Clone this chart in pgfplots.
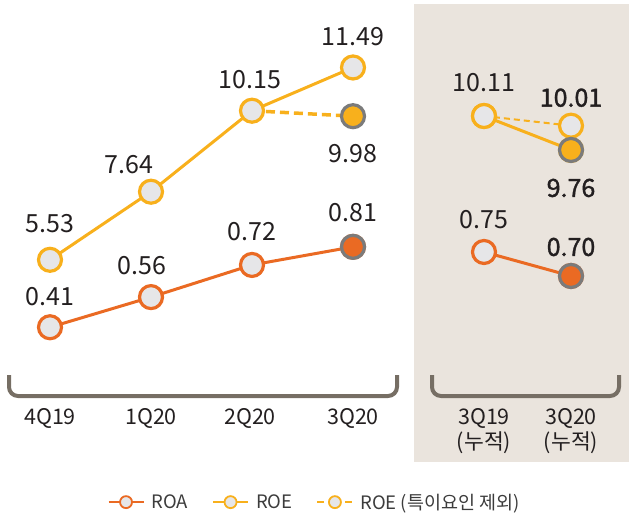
\documentclass[border=0pt]{standalone}
\usepackage{pgfplots}
\pgfplotsset{compat=1.18}
\usepackage{fontspec}
\setmainfont{Noto Sans CJK KR}
\newfontfamily\semibold[FakeBold=1.3]{Noto Sans CJK KR}

\definecolor{roe}{HTML}{F8B01C}
\definecolor{roa}{HTML}{EA6A23}
\definecolor{mk}{HTML}{E6E6E8}
\definecolor{rim}{HTML}{7B7B7B}
\definecolor{panel}{HTML}{EAE4DD}
\definecolor{brk}{HTML}{766E64}
\definecolor{txt}{HTML}{231F20}
\definecolor{leg}{HTML}{3C3C3C}

\pgfplotsset{
  panel/.style={hide axis, scale only axis, clip=false, height=515pt, anchor=south west},
  hollow/.style={mark=*, mark size=11.5pt, mark options={solid, fill=mk, line width=3.2pt}},
  filled/.style={only marks, mark=*, mark size=11.5pt, mark options={solid, fill=#1, draw=rim, line width=3.2pt}},
  lgimg/.style={legend image code/.code={
    \draw[##1] (0pt,0pt) -- (35pt,0pt);
    \draw[##1, solid, fill=mk, line width=1.8pt] (17.5pt,0pt) circle (6pt);
  }},
}
\tikzset{
  lbl/.style={text=txt, font=\fontsize{25}{28}\selectfont, anchor=center, inner sep=0pt},
  blbl/.style={lbl, font=\fontsize{25}{28}\selectfont\semibold},
  cat/.style={text=txt, font=\fontsize{21.5}{24}\selectfont, anchor=center, inner sep=0pt},
}

\begin{document}
\begin{tikzpicture}[x=1pt,y=1pt]
\path[use as bounding box] (0,0) rectangle (629,515);
\fill[panel] (414,53) rectangle (629,511);
\draw[brk, line width=4pt, rounded corners=9pt] (9,140) -- (9,119) -- (397,119) -- (397,140);
\draw[brk, line width=4pt, rounded corners=9pt] (432,140) -- (432,119) -- (619,119) -- (619,140);

% left panel, ROE
\begin{axis}[panel, at={(-0.5pt,0pt)}, width=404pt,
    xmin=-0.5, xmax=3.5, ymin=-2.378, ymax=13.581,
    legend columns=3,
    legend style={at={(0.78,0.025)}, anchor=center, draw=none, fill=none,
      font=\fontsize{18.5}{21}\selectfont, text=leg,
      /tikz/every odd column/.append style={column sep=5pt},
      /tikz/every even column/.append style={column sep=22pt}}]
  \addlegendimage{lgimg, roa, line width=2pt}
  \addlegendentry{ROA}
  \addlegendimage{lgimg, roe, line width=2pt}
  \addlegendentry{ROE}
  \addlegendimage{lgimg, roe, line width=2pt, dash pattern=on 7pt off 21pt}
  \addlegendentry{ROE (특이요인 제외)}
  \addplot[forget plot, roe, line width=3.5pt, dash pattern=on 9pt off 5pt] coordinates {(2,10.15) (3,9.98)};
  \addplot[forget plot, roe, line width=3pt, hollow] coordinates {(0,5.53) (1,7.64) (2,10.15) (3,11.49)};
  \addplot[forget plot, filled=roe] coordinates {(3,9.98)};
  \node[lbl, yshift=36pt] at (axis cs:0,5.53) {5.53};
  \node[lbl, xshift=-22pt, yshift=27pt] at (axis cs:1,7.64) {7.64};
  \node[lbl, xshift=-2pt, yshift=31pt] at (axis cs:2,10.15) {10.15};
  \node[lbl, yshift=31pt] at (axis cs:3,11.49) {11.49};
  \node[lbl, yshift=-37pt] at (axis cs:3,9.98) {9.98};
\end{axis}

% left panel, ROA
\begin{axis}[panel, at={(-0.5pt,0pt)}, width=404pt,
    xmin=-0.5, xmax=3.5, ymin=-0.524, ymax=2.038]
  \addplot[roa, line width=3pt, hollow] coordinates {(0,0.41) (1,0.56) (2,0.72) (3,0.81)};
  \addplot[filled=roa] coordinates {(3,0.81)};
  \node[lbl, yshift=31pt] at (axis cs:0,0.41) {0.41};
  \node[lbl, xshift=-9pt, yshift=32pt] at (axis cs:1,0.56) {0.56};
  \node[lbl, yshift=33pt] at (axis cs:2,0.72) {0.72};
  \node[lbl, yshift=34pt] at (axis cs:3,0.81) {0.81};
\end{axis}

% right panel, ROE
\begin{axis}[panel, at={(440.5pt,0pt)}, width=174pt,
    xmin=-0.5, xmax=1.5, ymin=5.997, ymax=11.306]
  \addplot[roe, line width=2pt, dash pattern=on 6pt off 4pt, hollow] coordinates {(0,10.11) (1,10.01)};
  \addplot[roe, line width=3pt, hollow] coordinates {(0,10.11) (1,9.76)};
  \addplot[filled=roe] coordinates {(1,9.76)};
  \node[lbl, yshift=33pt] at (axis cs:0,10.11) {10.11};
  \node[blbl, yshift=28pt] at (axis cs:1,10.01) {10.01};
  \node[blbl, yshift=-38pt] at (axis cs:1,9.76) {9.76};
\end{axis}

% right panel, ROA
\begin{axis}[panel, at={(440.5pt,0pt)}, width=174pt,
    xmin=-0.5, xmax=1.5, ymin=0.202, ymax=1.275]
  \addplot[roa, line width=3pt, hollow] coordinates {(0,0.75) (1,0.70)};
  \addplot[filled=roa] coordinates {(1,0.70)};
  \node[lbl, yshift=32pt] at (axis cs:0,0.75) {0.75};
  \node[blbl, yshift=29pt] at (axis cs:1,0.70) {0.70};
\end{axis}

\node[cat] at (50,97) {4Q19};
\node[cat] at (151,97) {1Q20};
\node[cat] at (250,97) {2Q20};
\node[cat] at (353,97) {3Q20};
\node[cat] at (484,97) {3Q19};
\node[cat] at (484,72) {(누적)};
\node[cat] at (571,97) {3Q20};
\node[cat] at (571,72) {(누적)};
\end{tikzpicture}
\end{document}
